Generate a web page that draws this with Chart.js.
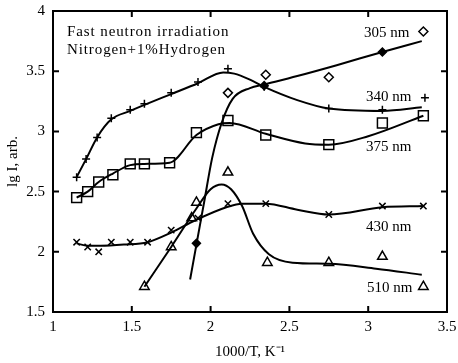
<!DOCTYPE html>
<html>
<head>
<meta charset="utf-8">
<script src="https://cdn.jsdelivr.net/npm/chart.js@4.4.1/dist/chart.umd.min.js"></script>
<style>
  html, body { margin: 0; padding: 0; background: #fff; }
  #wrap { width: 458px; height: 363px; }
</style>
</head>
<body>
<div id="wrap"><canvas id="chart" width="458" height="363"></canvas></div>
<script>
// tick labels
const xTicks = [1, 1.5, 2, 2.5, 3, 3.5];
const yTicks = [1.5, 2, 2.5, 3, 3.5, 4];

// 305 nm
const x305open = [2.11, 2.35, 2.75, 3.35];
const y305open = [3.32, 3.47, 3.45, 3.83];
const x305fill = [1.91, 2.34, 3.09];
const y305fill = [2.07, 3.38, 3.66];
const x305curve = [1.87, 1.91, 1.96, 2.01, 2.07, 2.14, 2.25, 2.34, 2.55, 2.8, 3.09, 3.34];
const y305curve = [1.77, 2.06, 2.42, 2.78, 3.07, 3.27, 3.36, 3.39, 3.46, 3.55, 3.66, 3.75];

// 340 nm
const x340 = [1.15, 1.21, 1.28, 1.37, 1.49, 1.58, 1.75, 1.92, 2.11, 2.34, 2.75, 3.09, 3.36];
const y340 = [2.62, 2.77, 2.95, 3.11, 3.18, 3.23, 3.32, 3.41, 3.52, 3.37, 3.19, 3.18, 3.28];
const x340curve = [1.15, 1.21, 1.28, 1.37, 1.49, 1.58, 1.75, 1.92, 2.08, 2.15, 2.25, 2.34, 2.55, 2.75, 3.09, 3.34];
const y340curve = [2.62, 2.77, 2.95, 3.1, 3.17, 3.22, 3.31, 3.4, 3.49, 3.48, 3.43, 3.37, 3.26, 3.19, 3.17, 3.2];

// 375 nm
const x375 = [1.15, 1.22, 1.29, 1.38, 1.49, 1.58, 1.74, 1.91, 2.11, 2.35, 2.75, 3.09, 3.35];
const y375 = [2.45, 2.5, 2.58, 2.64, 2.73, 2.73, 2.74, 2.99, 3.09, 2.97, 2.89, 3.07, 3.13];
const x375curve = [1.15, 1.22, 1.29, 1.38, 1.49, 1.58, 1.74, 1.91, 2.05, 2.12, 2.35, 2.6, 2.75, 3.0, 3.35];
const y375curve = [2.45, 2.5, 2.58, 2.65, 2.72, 2.73, 2.74, 2.97, 3.06, 3.07, 2.98, 2.9, 2.89, 2.96, 3.13];

// 430 nm
const x430 = [1.15, 1.22, 1.29, 1.37, 1.49, 1.6, 1.75, 1.92, 2.11, 2.35, 2.75, 3.09, 3.35];
const y430 = [2.08, 2.04, 2.0, 2.08, 2.08, 2.08, 2.18, 2.28, 2.4, 2.4, 2.31, 2.38, 2.38];
const x430curve = [1.15, 1.22, 1.3, 1.45, 1.6, 1.75, 1.9, 2.1, 2.2, 2.35, 2.55, 2.75, 3.09, 3.35];
const y430curve = [2.07, 2.05, 2.05, 2.06, 2.08, 2.16, 2.26, 2.37, 2.4, 2.4, 2.35, 2.31, 2.37, 2.38];

// 510 nm
const x510 = [1.58, 1.75, 1.91, 1.88, 2.11, 2.36, 2.75, 3.09, 3.35];
const y510 = [1.71, 2.04, 2.41, 2.28, 2.66, 1.91, 1.91, 1.96, 1.71];
const x510curve = [1.58, 1.75, 1.91, 2.0, 2.07, 2.13, 2.2, 2.27, 2.37, 2.52, 2.75, 3.05, 3.34];
const y510curve = [1.71, 2.04, 2.36, 2.52, 2.56, 2.52, 2.38, 2.15, 1.98, 1.91, 1.9, 1.86, 1.81];

const pts = (xs, ys) => xs.map((x, i) => ({ x: x, y: ys[i] }));

function markers(xs, ys, style, fill, r) {
  return {
    data: pts(xs, ys),
    showLine: false,
    pointStyle: style,
    pointRadius: r,
    pointBackgroundColor: fill,
    pointBorderColor: '#000',
    pointBorderWidth: 1.5
  };
}

function curve(xs, ys) {
  return {
    data: pts(xs, ys),
    showLine: true,
    pointRadius: 0,
    borderColor: '#000',
    borderWidth: 2,
    cubicInterpolationMode: 'monotone'
  };
}

const serif = '"Liberation Serif", "Times New Roman", serif';

// rama dan tick ke dalam
const framePlugin = {
  id: 'frame',
  afterDatasetsDraw(chart) {
    const ctx = chart.ctx;
    const a = chart.chartArea;
    const xs = chart.scales.x, ys = chart.scales.y;
    ctx.save();
    ctx.strokeStyle = '#000';
    ctx.lineWidth = 2;
    ctx.strokeRect(a.left, a.top, a.right - a.left, a.bottom - a.top);
    ctx.beginPath();
    xTicks.forEach(v => {
      const p = xs.getPixelForValue(v);
      ctx.moveTo(p, a.bottom); ctx.lineTo(p, a.bottom - 6);
      ctx.moveTo(p, a.top); ctx.lineTo(p, a.top + 6);
    });
    yTicks.forEach(v => {
      const p = ys.getPixelForValue(v);
      ctx.moveTo(a.left, p); ctx.lineTo(a.left + 6, p);
      ctx.moveTo(a.right, p); ctx.lineTo(a.right - 6, p);
    });
    ctx.stroke();

    // teks keterangan
    ctx.fillStyle = '#000';
    ctx.font = '15px ' + serif;
    ctx.textBaseline = 'middle';
    ctx.textAlign = 'left';
    ctx.letterSpacing = '0.9px';
    ctx.fillText('Fast neutron irradiation', 67, 32);
    ctx.fillText('Nitrogen+1%Hydrogen', 67, 50);
    ctx.letterSpacing = '0px';
    ctx.fillText('305 nm', 364, 33);
    ctx.fillText('340 nm', 366, 97);
    ctx.fillText('375 nm', 366, 147);
    ctx.fillText('430 nm', 366, 227);
    ctx.fillText('510 nm', 367, 288);
    ctx.restore();
  }
};

const chart = new Chart(document.getElementById('chart'), {
  type: 'scatter',
  data: {
    datasets: [
      curve(x305curve, y305curve),
      curve(x340curve, y340curve),
      curve(x375curve, y375curve),
      curve(x430curve, y430curve),
      curve(x510curve, y510curve),
      markers(x305open, y305open, 'rectRot', '#fff', 4.5),
      markers(x305fill, y305fill, 'rectRot', '#000', 4),
      markers(x340, y340, 'cross', '#000', 4),
      markers(x375, y375, 'rect', '#fff', 7),
      markers(x430, y430, 'crossRot', '#000', 4.5),
      markers(x510, y510, 'triangle', '#fff', 5.5)
    ]
  },
  options: {
    responsive: false,
    animation: false,
    layout: { padding: { top: 11, right: 11, left: 0, bottom: 0 } },
    plugins: { legend: { display: false }, tooltip: { enabled: false } },
    scales: {
      x: {
        type: 'linear',
        min: 1, max: 3.5,
        afterBuildTicks: s => { s.ticks = xTicks.map(v => ({ value: v })); },
        afterFit: s => { s.height = 51; s.paddingLeft = 0; s.paddingRight = 0; },
        grid: { display: false, drawTicks: false },
        border: { display: false },
        ticks: { color: '#000', font: { family: serif, size: 15 }, padding: 6, maxRotation: 0, callback: v => String(v) },
        title: { display: true, text: '1000/T, K\u207B\u00B9', color: '#000', font: { family: serif, size: 15 }, padding: { top: 2, bottom: 2 } }
      },
      y: {
        type: 'linear',
        min: 1.5, max: 4,
        afterBuildTicks: s => { s.ticks = yTicks.map(v => ({ value: v })); },
        afterFit: s => { s.width = 53; s.paddingTop = 0; s.paddingBottom = 0; },
        grid: { display: false, drawTicks: false },
        border: { display: false },
        ticks: { color: '#000', font: { family: serif, size: 15 }, padding: 8, callback: v => String(v) },
        title: { display: true, text: 'lg I, arb.', color: '#000', font: { family: serif, size: 15 }, padding: { bottom: 4 } }
      }
    }
  },
  plugins: [framePlugin]
});
</script>
</body>
</html>
